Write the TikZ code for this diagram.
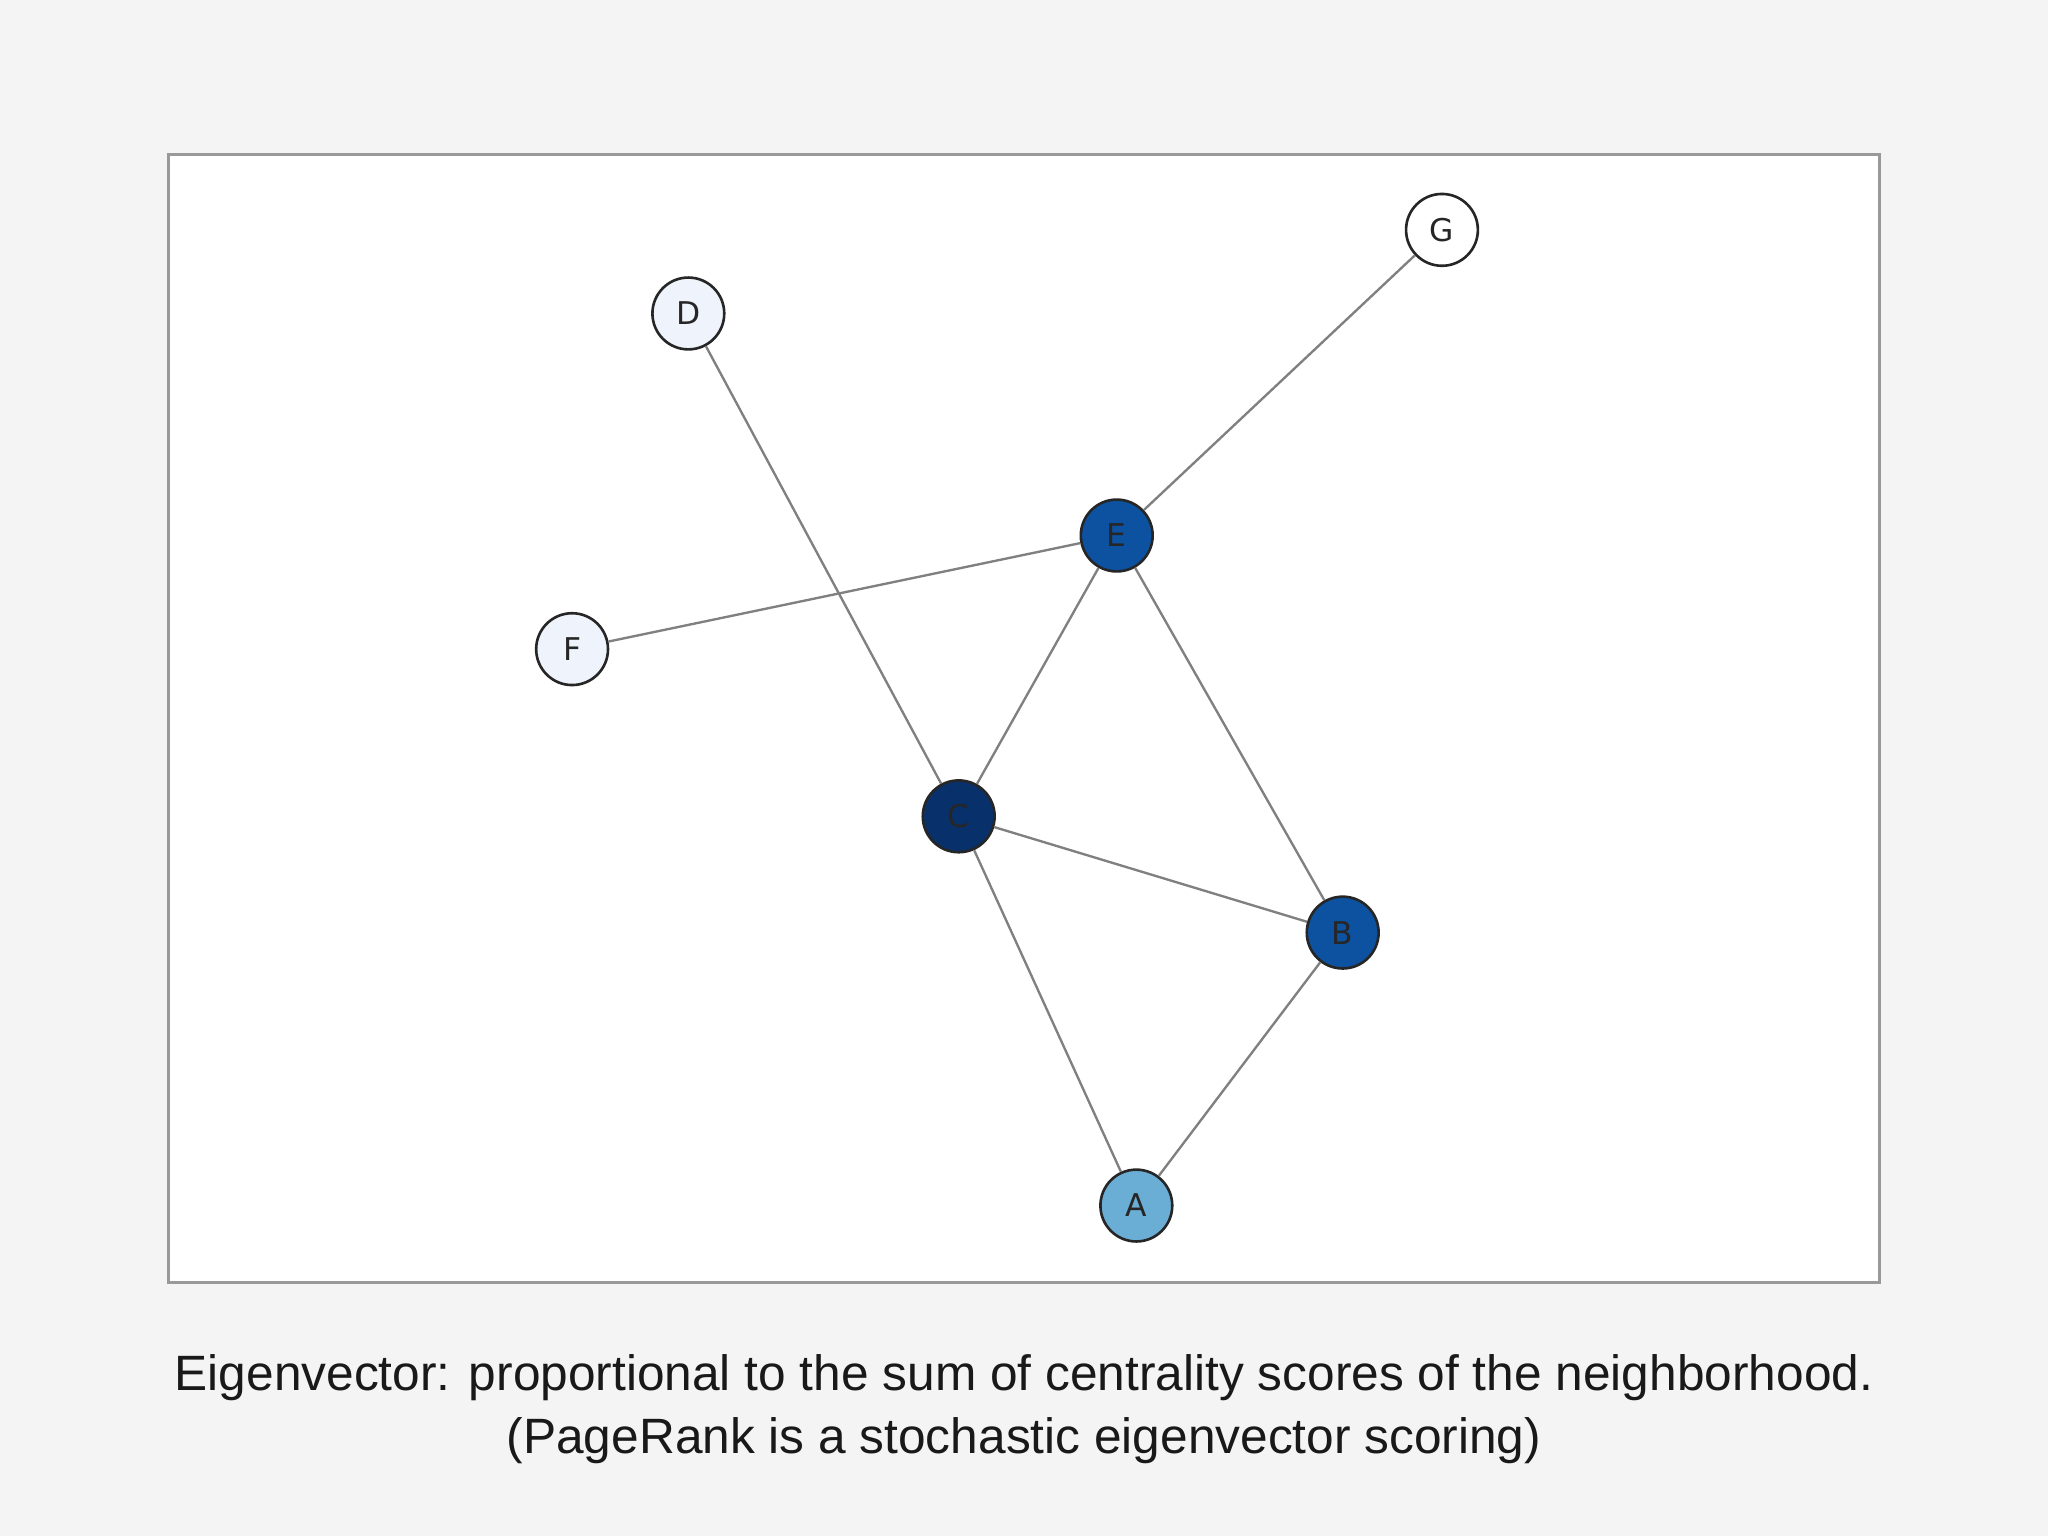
\documentclass[tikz,border=0pt]{standalone}
\usepackage{fontspec}
\setmainfont{Liberation Sans}
\newfontfamily\nodefont{DejaVu Sans}
\definecolor{bg}{HTML}{F4F4F4}
\definecolor{frm}{HTML}{999999}
\definecolor{edg}{HTML}{808080}
\definecolor{cE}{HTML}{0D52A1}
\definecolor{cC}{HTML}{08306B}
\definecolor{cA}{HTML}{6AAED6}
\definecolor{cD}{HTML}{EFF3FB}
\begin{document}
\begin{tikzpicture}[x=0.5pt,y=-0.5pt,
  vtx/.style={circle,draw=black!85,line width=1pt,minimum size=27.5pt,inner sep=0pt,font=\nodefont\fontsize{12}{12}\selectfont,text=black!85},
  ed/.style={draw=edg,line width=0.9pt}]
\fill[bg] (0,0) rectangle (1568,1176);
\draw[frm,fill=white,line width=1.2pt] (129,118) rectangle (1439,982);
\node[vtx,fill=white] (G) at (1104,176) {G};
\node[vtx,fill=cD] (D) at (527,240) {D};
\node[vtx,fill=cE] (E) at (855,410) {E};
\node[vtx,fill=cD] (F) at (438,497) {F};
\node[vtx,fill=cC] (C) at (734,625) {C};
\node[vtx,fill=cE] (B) at (1028,714) {B};
\node[vtx,fill=cA] (A) at (870,923) {A};
\begin{scope}[on background layer/.try]
\end{scope}
\draw[ed] (E) -- (G);
\draw[ed] (D) -- (C);
\draw[ed] (F) -- (E);
\draw[ed] (E) -- (C);
\draw[ed] (E) -- (B);
\draw[ed] (C) -- (B);
\draw[ed] (C) -- (A);
\draw[ed] (B) -- (A);
\node[font=\fontsize{19}{24}\selectfont,align=center,text=black!90] (cap) at (784,1079) {Eigenvector: proportional to the sum of centrality scores of the neighborhood.\\(PageRank is a stochastic eigenvector scoring)};
\end{tikzpicture}
\end{document}
